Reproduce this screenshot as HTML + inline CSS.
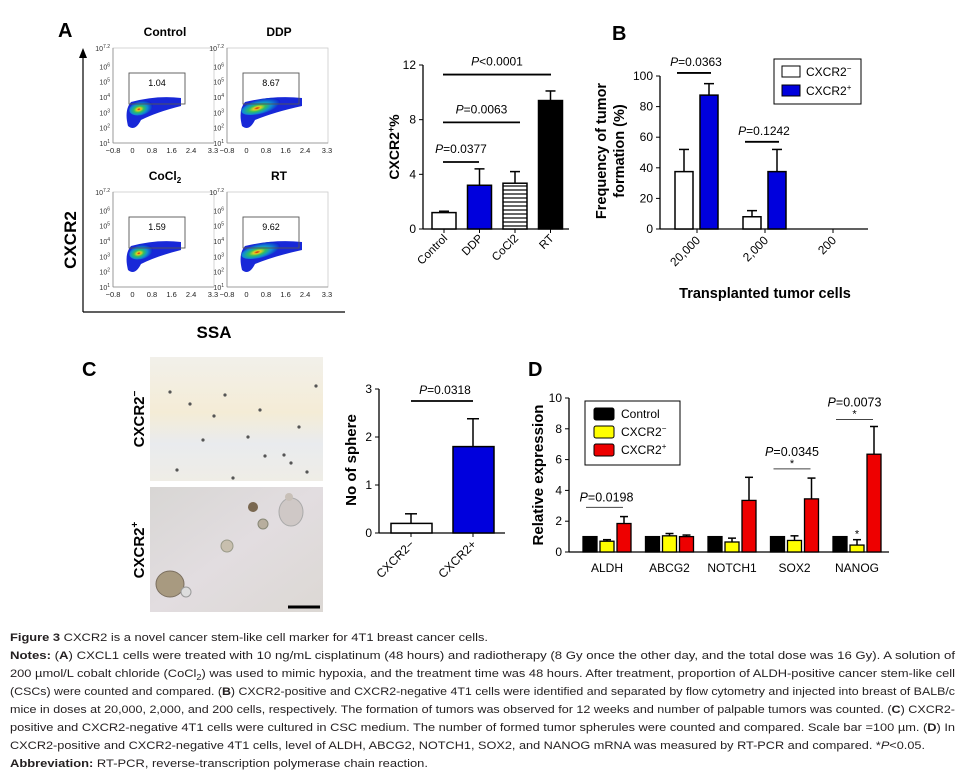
<!DOCTYPE html>
<html><head><meta charset="utf-8"><style>
body{margin:0;background:#fff;}
svg{display:block;font-family:"Liberation Sans",Arial,sans-serif;}
.cap{font-size:11.2px;fill:#231f20;}
</style></head><body>
<svg id="fig" width="964" height="775" viewBox="0 0 964 775" xmlns="http://www.w3.org/2000/svg">
<defs>
<radialGradient id="dens" cx="0.4" cy="0.55" r="0.6">
<stop offset="0" stop-color="#d01010"/><stop offset="0.15" stop-color="#e8d020"/><stop offset="0.35" stop-color="#30c060"/><stop offset="0.6" stop-color="#1090d0"/><stop offset="1" stop-color="#1020d0"/>
</radialGradient>
<linearGradient id="ph1" x1="0" y1="0" x2="0" y2="1"><stop offset="0" stop-color="#f2f0ea"/><stop offset="0.45" stop-color="#f4ecd6"/><stop offset="0.7" stop-color="#e9ebee"/><stop offset="1" stop-color="#efede6"/></linearGradient>
<linearGradient id="ph2" x1="0" y1="0" x2="1" y2="1"><stop offset="0" stop-color="#d8d6d4"/><stop offset="0.5" stop-color="#e2dde0"/><stop offset="1" stop-color="#dcd8d4"/></linearGradient>
<pattern id="hatch" width="4" height="4" patternUnits="userSpaceOnUse"><rect width="4" height="4" fill="#fff"/><line x1="0" y1="2" x2="4" y2="2" stroke="#000" stroke-width="1.2"/></pattern>
</defs>

<text x="58" y="37" font-size="20" font-weight="bold">A</text>
<text x="612" y="40" font-size="20" font-weight="bold">B</text>
<text x="82" y="376" font-size="20" font-weight="bold">C</text>
<text x="528" y="376" font-size="20" font-weight="bold">D</text>

<g id="flow">
<line x1="83" y1="312" x2="83" y2="56" stroke="#000" stroke-width="1.2"/>
<polygon points="79,58 87,58 83,48" fill="#000"/>
<line x1="83" y1="312" x2="345" y2="312" stroke="#000" stroke-width="1.2"/>
<text transform="translate(76,240) rotate(-90)" text-anchor="middle" font-size="17" font-weight="bold">CXCR2</text>
<text x="214" y="338" text-anchor="middle" font-size="17" font-weight="bold">SSA</text>
</g>

<g>
<rect x="150" y="357" width="173" height="124" fill="url(#ph1)"/>
<g id="dots1" fill="#555"></g>
<rect x="150" y="487" width="173" height="125" fill="url(#ph2)"/>
<ellipse cx="170" cy="584" rx="14" ry="13" fill="#a89a80" stroke="#7a6e5e"/>
<circle cx="186" cy="592" r="5" fill="#ddd" stroke="#999"/>
<circle cx="227" cy="546" r="6" fill="#c8bfae" stroke="#998"/>
<circle cx="263" cy="524" r="5" fill="#b8ae9e" stroke="#887"/>
<circle cx="253" cy="507" r="5" fill="#7a6850"/>
<ellipse cx="291" cy="512" rx="12" ry="14" fill="#cfc8c6" stroke="#aaa"/>
<circle cx="289" cy="497" r="4" fill="#c8c0b8"/>
<line x1="288" y1="607" x2="320" y2="607" stroke="#000" stroke-width="3"/>
<text transform="translate(144,419) rotate(-90)" text-anchor="middle" font-size="15" font-weight="bold">CXCR2<tspan dy="-6" font-size="10">−</tspan></text>
<text transform="translate(144,550) rotate(-90)" text-anchor="middle" font-size="15" font-weight="bold">CXCR2<tspan dy="-6" font-size="10">+</tspan></text>
</g>

<g id="chartA"></g>
<g id="chartB"></g>
<g id="chartC"></g>
<g id="chartD"></g>

<g>
<text class="cap" x="10" y="641" textLength="478" lengthAdjust="spacingAndGlyphs"><tspan font-weight="bold">Figure 3</tspan> CXCR2 is a novel cancer stem-like cell marker for 4T1 breast cancer cells.</text>
<text class="cap" x="10" y="659" textLength="945" lengthAdjust="spacingAndGlyphs"><tspan font-weight="bold">Notes:</tspan> (<tspan font-weight="bold">A</tspan>) CXCL1 cells were treated with 10 ng/mL cisplatinum (48 hours) and radiotherapy (8 Gy once the other day, and the total dose was 16 Gy). A solution of</text>
<text class="cap" x="10" y="677" textLength="945" lengthAdjust="spacingAndGlyphs">200 µmol/L cobalt chloride (CoCl<tspan font-size="8" dy="3">2</tspan><tspan dy="-3">) was used to mimic hypoxia, and the treatment time was 48 hours. After treatment, proportion of ALDH-positive cancer stem-like cell</tspan></text>
<text class="cap" x="10" y="695" textLength="945" lengthAdjust="spacingAndGlyphs">(CSCs) were counted and compared. (<tspan font-weight="bold">B</tspan>) CXCR2-positive and CXCR2-negative 4T1 cells were identified and separated by flow cytometry and injected into breast of BALB/c</text>
<text class="cap" x="10" y="713" textLength="945" lengthAdjust="spacingAndGlyphs">mice in doses at 20,000, 2,000, and 200 cells, respectively. The formation of tumors was observed for 12 weeks and number of palpable tumors was counted. (<tspan font-weight="bold">C</tspan>) CXCR2-</text>
<text class="cap" x="10" y="731" textLength="945" lengthAdjust="spacingAndGlyphs">positive and CXCR2-negative 4T1 cells were cultured in CSC medium. The number of formed tumor spherules were counted and compared. Scale bar =100 µm. (<tspan font-weight="bold">D</tspan>) In</text>
<text class="cap" x="10" y="749" textLength="915" lengthAdjust="spacingAndGlyphs">CXCR2-positive and CXCR2-negative 4T1 cells, level of ALDH, ABCG2, NOTCH1, SOX2, and NANOG mRNA was measured by RT-PCR and compared. *<tspan font-style="italic">P</tspan>&lt;0.05.</text>
<text class="cap" x="10" y="767" textLength="418" lengthAdjust="spacingAndGlyphs"><tspan font-weight="bold">Abbreviation:</tspan> RT-PCR, reverse-transcription polymerase chain reaction.</text>
</g>
</svg>
<script>
const flowTitles = ["Control","DDP","CoCl2","RT"];
const flowGate = ["1.04","8.67","1.59","9.62"];
const flowYTicks = ["7.2","6","5","4","3","2","1"];
const flowXTicks = ["−0.8","0","0.8","1.6","2.4","3.3"];
const aCats = ["Control","DDP","CoCl2","RT"];
const aVals = [1.2, 3.2, 3.35, 9.4];
const aErr = [1.3, 4.4, 4.2, 10.1];
const aTicks = [0,4,8,12];
const aSigY = [4.9, 7.8, 11.3];
const aSigLabels = ["=0.0377","=0.0063","<0.0001"];
const aSigTo = [1,2,3];
const bCats = ["20,000","2,000","200"];
const bNeg = [37.5, 8, 0];
const bNegErr = [52, 12, 0];
const bPos = [87.5, 37.5, 0];
const bPosErr = [95, 52, 0];
const bTicks = [0,20,40,60,80,100];
const bSigY = [102, 57];
const bSigLabels = ["=0.0363","=0.1242"];
const cCats = ["CXCR2−","CXCR2+"];
const cVals = [0.2, 1.8];
const cErr = [0.4, 2.38];
const cTicks = [0,1,2,3];
const dCats = ["ALDH","ABCG2","NOTCH1","SOX2","NANOG"];
const dCtrl = [1,1,1,1,1];
const dNeg = [0.7,1.05,0.65,0.75,0.45];
const dNegErr = [0.8,1.2,0.9,1.05,0.8];
const dPos = [1.85,1.0,3.35,3.45,6.35];
const dPosErr = [2.3,1.1,4.85,4.8,8.15];
const dTicks = [0,2,4,6,8,10];

const NS="http://www.w3.org/2000/svg";
function mk(parent,tag,attrs,text){const e=document.createElementNS(NS,tag);for(const k in attrs)e.setAttribute(k,attrs[k]);if(text!==undefined)e.textContent=text;parent.appendChild(e);return e;}

const flow=document.getElementById('flow');
flowTitles.forEach((t,i)=>{
  const ox=113+(i%2)*114, oy=48+Math.floor(i/2)*144;
  const g=mk(flow,'g',{});
  
  
  mk(g,'rect',{x:ox,y:oy,width:101,height:95,fill:'none',stroke:'#ccc','stroke-width':0.8});
  mk(g,'line',{x1:ox,y1:oy,x2:ox,y2:oy+95,stroke:'#888','stroke-width':0.8});
  mk(g,'line',{x1:ox,y1:oy+95,x2:ox+101,y2:oy+95,stroke:'#888','stroke-width':0.8});
  const tt=mk(g,'text',{x:ox+52,y:oy-12,'text-anchor':'middle','font-size':12,'font-weight':'bold'});
  if(t==="CoCl2"){tt.innerHTML='CoCl<tspan font-size="8" dy="3">2</tspan>';}else tt.textContent=t;
  flowYTicks.forEach((v)=>{
    const yy=oy+(7.2-Number(v))/6.2*95;
    const tx=mk(g,'text',{x:ox-3,y:yy+3,'text-anchor':'end','font-size':7,fill:'#333'});
    tx.innerHTML='10<tspan dy="-3" font-size="5">'+v+'</tspan>';
  });
  const vals=[-0.8,0,0.8,1.6,2.4,3.3];
  flowXTicks.forEach((v,j)=>{
    const x=ox+(vals[j]+0.8)/4.1*100;
    mk(g,'text',{x:x,y:oy+105,'text-anchor':'middle','font-size':7.5,fill:'#222'},v);
  });
  const wide=(i%2===1);
  const bx=ox+20, by=oy+64;
  const tail=wide?55:48;
  mk(g,'path',{d:`M${bx-5} ${by+14} Q${bx-9} ${by-2} ${bx-2} ${by-10} Q${bx+tail/2} ${by-17} ${bx+tail} ${by-14} L${bx+tail} ${by-6} Q${bx+tail/2} ${by} ${bx+8} ${by+8} Q${bx+2} ${by+20} ${bx-5} ${by+14}Z`,fill:'#1828d8'});
  mk(g,'ellipse',{cx:bx+(wide?14:8),cy:by-4,rx:wide?20:12,ry:7,fill:'url(#dens)',transform:`rotate(-15 ${bx+8} ${by-4})`});
  mk(g,'rect',{x:ox+16,y:oy+25,width:56,height:31,fill:'none',stroke:'#555','stroke-width':0.9});
  mk(g,'text',{x:ox+44,y:oy+38,'text-anchor':'middle','font-size':9},flowGate[i]);
});

(function(){
  const g=document.getElementById('chartA');
  const x0=423,y0=229,yTop=65,max=12;
  const ys=v=>y0-(v/max)*(y0-yTop);
  const cx=i=>444+i*35.5;
  mk(g,'line',{x1:x0,y1:y0,x2:x0,y2:yTop,stroke:'#000','stroke-width':1.3});
  mk(g,'line',{x1:x0,y1:y0,x2:569,y2:y0,stroke:'#000','stroke-width':1.3});
  aTicks.forEach(t=>{mk(g,'line',{x1:x0-4,y1:ys(t),x2:x0,y2:ys(t),stroke:'#000'});mk(g,'text',{x:x0-7,y:ys(t)+4,'text-anchor':'end','font-size':12},String(t));});
  const fills=['#fff','#0000dd','url(#hatch)','#000'];
  aCats.forEach((c,i)=>{
    mk(g,'line',{x1:cx(i),y1:ys(aVals[i]),x2:cx(i),y2:ys(aErr[i]),stroke:'#000','stroke-width':1.5});
    mk(g,'line',{x1:cx(i)-5,y1:ys(aErr[i]),x2:cx(i)+5,y2:ys(aErr[i]),stroke:'#000','stroke-width':1.5});
    const r=mk(g,'rect',{x:cx(i)-12,y:ys(aVals[i]),width:24,height:y0-ys(aVals[i]),fill:fills[i],stroke:'#000','stroke-width':1.5});
    
    
    mk(g,'line',{x1:cx(i),y1:y0,x2:cx(i),y2:y0+4,stroke:'#000'});
    mk(g,'text',{x:cx(i)+4,y:y0+10,'text-anchor':'end','font-size':11.5,transform:`rotate(-45 ${cx(i)+4} ${y0+10})`},c);
  });
  const ends=[35,76,107];
  aSigY.forEach((sy,k)=>{
    const x1=cx(0)-1, x2=cx(0)+ends[k], y=ys(sy);
    mk(g,'line',{x1:x1,y1:y,x2:x2,y2:y,stroke:'#000','stroke-width':1.8});
    const t=mk(g,'text',{x:(x1+x2)/2,y:y-9,'text-anchor':'middle','font-size':12});
    t.innerHTML='<tspan font-style="italic">P</tspan>'+aSigLabels[k];
  });
  mk(g,'text',{transform:'translate(399,147) rotate(-90)','text-anchor':'middle','font-size':14,'font-weight':'bold'}).innerHTML='CXCR2<tspan dy="-5" font-size="9">+</tspan><tspan dy="5">%</tspan>';
})();

(function(){
  const g=document.getElementById('chartB');
  const x0=660,y0=229,yTop=76,max=100;
  const ys=v=>y0-(v/max)*(y0-yTop);
  const gc=i=>697+i*68;
  mk(g,'line',{x1:x0,y1:y0,x2:x0,y2:yTop,stroke:'#000','stroke-width':1.3});
  mk(g,'line',{x1:x0,y1:y0,x2:868,y2:y0,stroke:'#000','stroke-width':1.3});
  bTicks.forEach(t=>{mk(g,'line',{x1:x0-4,y1:ys(t),x2:x0,y2:ys(t),stroke:'#000'});mk(g,'text',{x:x0-7,y:ys(t)+4,'text-anchor':'end','font-size':12},String(t));});
  function bar(x,v,e,fill,name){
    if(v<=0)return;
    mk(g,'line',{x1:x,y1:ys(v),x2:x,y2:ys(e),stroke:'#000','stroke-width':1.5});
    mk(g,'line',{x1:x-5,y1:ys(e),x2:x+5,y2:ys(e),stroke:'#000','stroke-width':1.5});
    const r=mk(g,'rect',{x:x-9,y:ys(v),width:18,height:y0-ys(v),fill:fill,stroke:'#000','stroke-width':1.5});
    
    
  }
  bCats.forEach((c,i)=>{
    bar(gc(i)-13,bNeg[i],bNegErr[i],'#fff','bar-b-neg-'+i);
    bar(gc(i)+12,bPos[i],bPosErr[i],'#0000dd','bar-b-pos-'+i);
    mk(g,'line',{x1:gc(i),y1:y0,x2:gc(i),y2:y0+4,stroke:'#000'});
    mk(g,'text',{x:gc(i)+4,y:y0+12,'text-anchor':'end','font-size':12,transform:`rotate(-45 ${gc(i)+4} ${y0+12})`},c);
  });
  bSigY.forEach((sy,k)=>{
    const y=ys(sy);const a=gc(k)-20,b=gc(k)+14;
    mk(g,'line',{x1:a,y1:y,x2:b,y2:y,stroke:'#000','stroke-width':1.8});
    mk(g,'text',{x:(a+b)/2+2,y:y-7,'text-anchor':'middle','font-size':12}).innerHTML='<tspan font-style="italic">P</tspan>'+bSigLabels[k];
  });
  mk(g,'text',{transform:'translate(606,151) rotate(-90)','text-anchor':'middle','font-size':14.5,'font-weight':'bold'},'Frequency of tumor');
  mk(g,'text',{transform:'translate(624,151) rotate(-90)','text-anchor':'middle','font-size':14.5,'font-weight':'bold'},'formation (%)');
  mk(g,'text',{x:765,y:298,'text-anchor':'middle','font-size':14.5,'font-weight':'bold'},'Transplanted tumor cells');
  const lg=mk(g,'g',{});
  
  
  mk(lg,'rect',{x:774,y:59,width:87,height:45,fill:'#fff',stroke:'#000'});
  mk(lg,'rect',{x:782,y:66,width:18,height:11,fill:'#fff',stroke:'#000'});
  mk(lg,'rect',{x:782,y:85,width:18,height:11,fill:'#0000dd',stroke:'#000'});
  mk(lg,'text',{x:806,y:76,'font-size':12}).innerHTML='CXCR2<tspan dy="-5" font-size="8">−</tspan>';
  mk(lg,'text',{x:806,y:95,'font-size':12}).innerHTML='CXCR2<tspan dy="-5" font-size="8">+</tspan>';
})();

(function(){
  const g=document.getElementById('chartC');
  const x0=379,y0=533,yTop=389,max=3;
  const ys=v=>y0-(v/max)*(y0-yTop);
  const cx=i=>411+i*62;
  mk(g,'line',{x1:x0,y1:y0,x2:x0,y2:yTop,stroke:'#000','stroke-width':1.3});
  mk(g,'line',{x1:x0,y1:y0,x2:505,y2:y0,stroke:'#000','stroke-width':1.3});
  cTicks.forEach(t=>{mk(g,'line',{x1:x0-4,y1:ys(t),x2:x0,y2:ys(t),stroke:'#000'});mk(g,'text',{x:x0-7,y:ys(t)+4,'text-anchor':'end','font-size':12},String(t));});
  const fills=['#fff','#0000dd'];
  cCats.forEach((c,i)=>{
    mk(g,'line',{x1:cx(i),y1:ys(cVals[i]),x2:cx(i),y2:ys(cErr[i]),stroke:'#000','stroke-width':1.5});
    mk(g,'line',{x1:cx(i)-6,y1:ys(cErr[i]),x2:cx(i)+6,y2:ys(cErr[i]),stroke:'#000','stroke-width':1.5});
    const r=mk(g,'rect',{x:cx(i)-20,y:ys(cVals[i]),width:41,height:y0-ys(cVals[i]),fill:fills[i],stroke:'#000','stroke-width':1.5});
    
    
    mk(g,'line',{x1:cx(i),y1:y0,x2:cx(i),y2:y0+4,stroke:'#000'});
    mk(g,'text',{x:cx(i)+4,y:y0+12,'text-anchor':'end','font-size':12,transform:`rotate(-45 ${cx(i)+4} ${y0+12})`},c);
  });
  mk(g,'line',{x1:411,y1:401,x2:473,y2:401,stroke:'#000','stroke-width':1.8});
  mk(g,'text',{x:445,y:394,'text-anchor':'middle','font-size':12}).innerHTML='<tspan font-style="italic">P</tspan>=0.0318';
  mk(g,'text',{transform:'translate(356,460) rotate(-90)','text-anchor':'middle','font-size':15,'font-weight':'bold'},'No of sphere');
})();

(function(){
  const g=document.getElementById('chartD');
  const x0=569,y0=552,yTop=398,max=10;
  const ys=v=>y0-(v/max)*(y0-yTop);
  const gc=i=>607+i*62.5;
  mk(g,'line',{x1:x0,y1:y0,x2:x0,y2:yTop,stroke:'#000','stroke-width':1.3});
  mk(g,'line',{x1:x0,y1:y0,x2:889,y2:y0,stroke:'#000','stroke-width':1.3});
  dTicks.forEach(t=>{mk(g,'line',{x1:x0-4,y1:ys(t),x2:x0,y2:ys(t),stroke:'#000'});mk(g,'text',{x:x0-7,y:ys(t)+4,'text-anchor':'end','font-size':12},String(t));});
  function bar(x,v,e,fill,name){
    if(e>v){mk(g,'line',{x1:x,y1:ys(v),x2:x,y2:ys(e),stroke:'#000','stroke-width':1.5});
    mk(g,'line',{x1:x-4,y1:ys(e),x2:x+4,y2:ys(e),stroke:'#000','stroke-width':1.5});}
    const r=mk(g,'rect',{x:x-7,y:ys(v),width:14,height:y0-ys(v),fill:fill,stroke:'#000','stroke-width':1.3});
    
    
  }
  dCats.forEach((c,i)=>{
    bar(gc(i)-17,dCtrl[i],0,'#000','bar-d-control-'+i);
    bar(gc(i),dNeg[i],dNegErr[i],'#ffff00','bar-d-neg-'+i);
    bar(gc(i)+17,dPos[i],dPosErr[i],'#ee0000','bar-d-pos-'+i);
    mk(g,'text',{x:gc(i),y:572,'text-anchor':'middle','font-size':12},c);
  });
  const sig=[[0,'=0.0198',2.9,false],[3,'=0.0345',5.4,true],[4,'=0.0073',8.6,true]];
  sig.forEach(s=>{
    const y=ys(s[2]);const a=gc(s[0])-21,b=gc(s[0])+16;
    mk(g,'line',{x1:a,y1:y,x2:b,y2:y,stroke:'#444','stroke-width':1});
    if(s[3])mk(g,'text',{x:(a+b)/2,y:y-2,'text-anchor':'middle','font-size':11},'*');
    mk(g,'text',{x:(a+b)/2+(s[0]===0?2:0),y:y-(s[3]?13:6),'text-anchor':'middle','font-size':12.5}).innerHTML='<tspan font-style="italic">P</tspan>'+s[1];
  });
  mk(g,'text',{x:gc(4),y:ys(dNegErr[4])-2,'text-anchor':'middle','font-size':11},'*');
  mk(g,'text',{transform:'translate(543,475) rotate(-90)','text-anchor':'middle','font-size':15,'font-weight':'bold'},'Relative expression');
  const lg=mk(g,'g',{});
  
  
  mk(lg,'rect',{x:585,y:401,width:95,height:64,fill:'#fff',stroke:'#000'});
  const cols=['#000','#ffff00','#ee0000'];
  const labs=['Control','CXCR2<tspan dy="-5" font-size="8">−</tspan>','CXCR2<tspan dy="-5" font-size="8">+</tspan>'];
  cols.forEach((c,k)=>{
    mk(lg,'rect',{x:594,y:408+k*18,width:20,height:12,rx:2,fill:c,stroke:'#000'});
    mk(lg,'text',{x:621,y:418+k*18,'font-size':12}).innerHTML=labs[k];
  });
})();

const dg=document.getElementById('dots1');
[[190,404],[214,416],[248,437],[265,456],[291,463],[307,472],[233,478],[203,440],[284,455],[260,410],[170,392],[316,386],[299,427],[177,470],[225,395]].forEach(p=>mk(dg,'circle',{cx:p[0],cy:p[1],r:1.6}));
</script>
</body></html>
